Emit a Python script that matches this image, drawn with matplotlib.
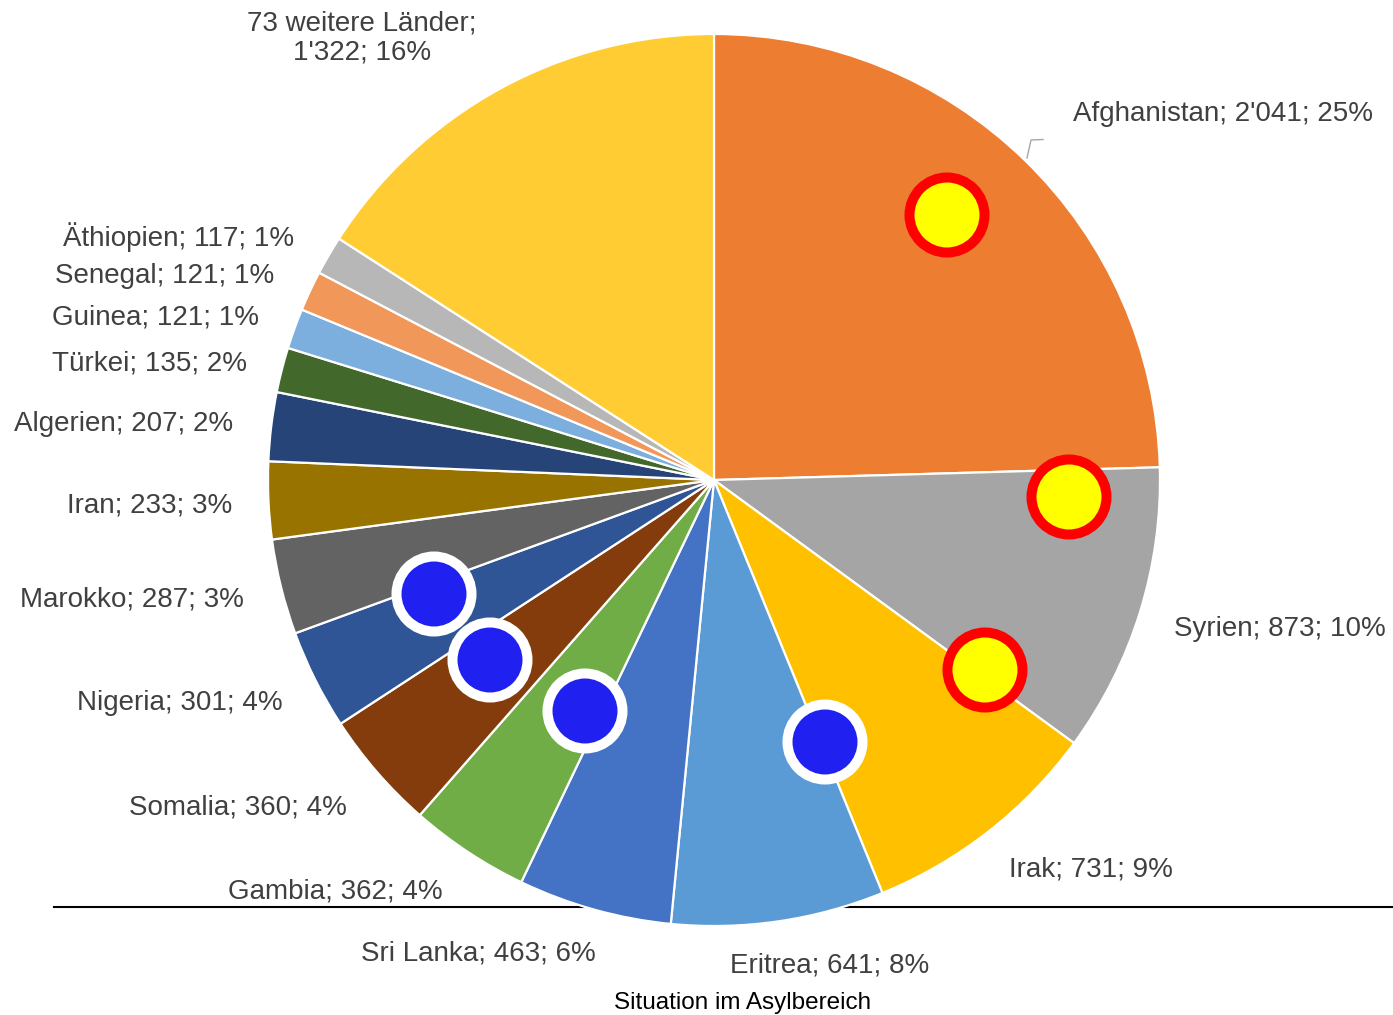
import matplotlib.pyplot as plt
from matplotlib.patches import Circle

plt.rcParams['font.family'] = ['Liberation Sans', 'DejaVu Sans']

# data
countries = ["Afghanistan", "Syrien", "Irak", "Eritrea", "Sri Lanka", "Gambia",
             "Somalia", "Nigeria", "Marokko", "Iran", "Algerien", "Türkei",
             "Guinea", "Senegal", "Äthiopien", "73 weitere Länder"]
counts = [2041, 873, 731, 641, 463, 362, 360, 301, 287, 233, 207, 135,
          121, 121, 117, 1322]
count_labels = ["2'041", "873", "731", "641", "463", "362", "360", "301",
                "287", "233", "207", "135", "121", "121", "117", "1'322"]
percents = [25, 10, 9, 8, 6, 4, 4, 4, 3, 3, 2, 2, 1, 1, 1, 16]
colors = ["#ED7D31", "#A5A5A5", "#FFC000", "#5B9BD5", "#4472C4", "#70AD47",
          "#843C0C", "#2F5597", "#636363", "#997300", "#264478", "#43682B",
          "#7CAFDD", "#F1975A", "#B7B7B7", "#FFCD33"]
title = "Situation im Asylbereich"

# label placement (pixel coords, centre of text)
label_pos = [(1223, 114), (1280, 629), (1091, 870), (830, 965), (478, 953),
             (335, 892), (238, 807), (180, 703), (132, 600), (150, 505),
             (124, 424), (150, 363), (155, 318), (165, 276), (179, 237),
             (362, 38)]

# overlay markers
yellow_dots = [(947, 215), (1069, 497), (985, 670)]
blue_dots = [(434, 594), (490, 660), (585, 711), (825, 742)]

W, H = 1393, 1015
fig = plt.figure(figsize=(W / 100, H / 100), dpi=100)
ax = fig.add_axes([0, 0, 1, 1])

# base line behind the pie
ax.plot([54, W], [907, 907], color="black", linewidth=1.5, zorder=0)

ax.pie(counts, colors=colors, center=(714, 480), radius=446,
       startangle=-90, counterclock=True,
       wedgeprops=dict(edgecolor="white", linewidth=1.6),
       frame=True)

ax.set_xlim(0, W)
ax.set_ylim(H, 0)
ax.set_aspect("equal")
ax.axis("off")

for i, (name, c, p) in enumerate(zip(countries, count_labels, percents)):
    x, y = label_pos[i]
    if name.startswith("73"):
        txt = f"{name};\n{c}; {p}%"
    else:
        txt = f"{name}; {c}; {p}%"
    ax.text(x, y, txt, ha="center", va="center", fontsize=20,
            color="#404040", linespacing=1.15, zorder=5)

# small leader line for Afghanistan
ax.plot([1027, 1031, 1043], [158, 140, 139.5], color="#A6A6A6",
        linewidth=1, zorder=5)

for (x, y) in yellow_dots:
    ax.add_patch(Circle((x, y), 37.5, facecolor="#FFFF00", edgecolor="#FF0000",
                        linewidth=7.2, zorder=6))
for (x, y) in blue_dots:
    ax.add_patch(Circle((x, y), 37.5, facecolor="#2020F0", edgecolor="white",
                        linewidth=7.2, zorder=6))

ax.text(743, 1003, title, ha="center", va="center", fontsize=17.5,
        color="black", zorder=5)

fig.savefig("out.png", dpi=100)
